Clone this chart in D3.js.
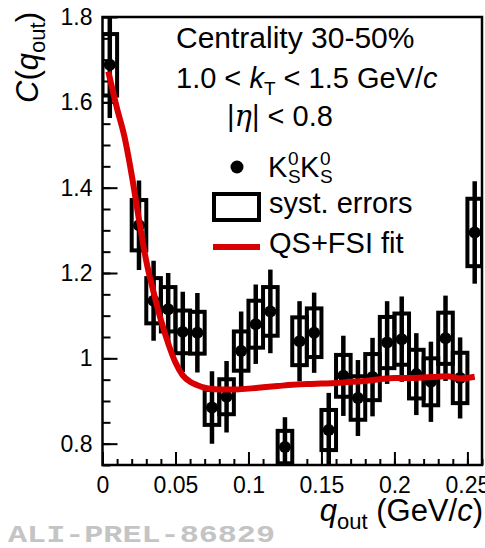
<!DOCTYPE html>
<html>
<head>
<meta charset="utf-8">
<script src="https://cdn.jsdelivr.net/npm/d3@7"></script>
<style>
  html, body { margin: 0; padding: 0; background: #fff; }
  svg { display: block; }
  text { font-family: "Liberation Sans", Arial, Helvetica, sans-serif; fill: #000; }
</style>
</head>
<body>
<svg id="chart" width="485" height="548"></svg>
<script>
// K0S K0S correlation function vs q_out, centrality 30-50 %
const qOut = [0.005, 0.025, 0.035, 0.045, 0.055, 0.065, 0.075, 0.085, 0.095, 0.105,
              0.115, 0.125, 0.135, 0.145, 0.155, 0.165, 0.175, 0.185, 0.195, 0.205,
              0.215, 0.225, 0.235, 0.245, 0.255];
const cValue = [1.688, 1.312, 1.135, 1.115, 1.062, 1.060, 0.885, 0.910, 1.017, 1.080,
                1.110, 0.792, 1.040, 1.060, 0.832, 0.959, 0.907, 0.956, 1.037, 1.045,
                0.963, 0.945, 1.047, 0.954, 1.295];
const statErr = [0.125, 0.105, 0.094, 0.085, 0.094, 0.093, 0.085, 0.084, 0.093, 0.093,
                 0.098, 0.070, 0.094, 0.094, 0.087, 0.094, 0.089, 0.092, 0.097, 0.100,
                 0.096, 0.094, 0.100, 0.095, 0.120];
const systErr = [0.072, 0.059, 0.053, 0.052, 0.050, 0.049, 0.041, 0.041, 0.046, 0.055,
                 0.057, 0.038, 0.056, 0.057, 0.047, 0.049, 0.051, 0.054, 0.060, 0.060,
                 0.057, 0.055, 0.060, 0.059, 0.079];
const binWidth = 0.01;

// QS+FSI fit curve
const fitQ = [0.004, 0.010, 0.015, 0.020, 0.025, 0.030, 0.035, 0.040, 0.045, 0.050,
              0.055, 0.060, 0.065, 0.070, 0.075, 0.080, 0.090, 0.100, 0.110, 0.120,
              0.130, 0.140, 0.150, 0.160, 0.170, 0.180, 0.190, 0.200, 0.210, 0.220,
              0.230, 0.236, 0.245, 0.255];
const fitC = [1.672, 1.585, 1.520, 1.430, 1.325, 1.228, 1.155, 1.090, 1.035, 0.990,
              0.960, 0.945, 0.937, 0.931, 0.928, 0.927, 0.927, 0.929, 0.932, 0.935,
              0.938, 0.940, 0.941, 0.942, 0.945, 0.947, 0.951, 0.954, 0.954, 0.955,
              0.957, 0.958, 0.953, 0.957];

const xTicks = [0, 0.05, 0.1, 0.15, 0.2, 0.25];
const xTickLabels = ["0", "0.05", "0.1", "0.15", "0.2", "0.25"];
const yTicks = [0.8, 1.0, 1.2, 1.4, 1.6, 1.8];
const yTickLabels = ["0.8", "1", "1.2", "1.4", "1.6", "1.8"];

const svg = d3.select("#chart");
const frameL = 102.5, frameR = 482, frameT = 17, frameB = 465;

const x = d3.scaleLinear().domain([0, 0.26]).range([frameL, frameR]);
const y = d3.scaleLinear().domain([0.75, 1.8]).range([frameB, frameT]);

svg.append("defs").append("clipPath").attr("id", "plotClip")
  .append("rect").attr("x", frameL).attr("y", frameT)
  .attr("width", frameR - frameL).attr("height", frameB - frameT);

// axes with inward ticks
const xMinor = d3.range(0, 0.2601, 0.01);
const yMinor = d3.range(0.75, 1.8001, 0.05);

const xAxisMinor = d3.axisBottom(x).tickValues(xMinor).tickSize(-6).tickFormat("");
const xAxisMajor = d3.axisBottom(x).tickValues(xTicks).tickSize(-13)
  .tickFormat((d, i) => xTickLabels[i]);
const yAxisMinor = d3.axisLeft(y).tickValues(yMinor).tickSize(-8).tickFormat("");
const yAxisMajor = d3.axisLeft(y).tickValues(yTicks).tickSize(-15)
  .tickFormat((d, i) => yTickLabels[i]);

function styleAxis(g) {
  g.select(".domain").remove();
  g.selectAll("line").attr("stroke", "#000").attr("stroke-width", 2);
  g.selectAll("text").style("font-size", "23px").style("fill", "#000");
}
svg.append("g").attr("transform", `translate(0,${frameB})`).call(xAxisMinor).call(styleAxis);
svg.append("g").attr("transform", `translate(0,${frameB})`).call(xAxisMajor).call(styleAxis)
  .selectAll("text").attr("dy", "0.71em").attr("y", 12);
svg.append("g").attr("transform", `translate(${frameL},0)`).call(yAxisMinor).call(styleAxis);
svg.append("g").attr("transform", `translate(${frameL},0)`).call(yAxisMajor).call(styleAxis)
  .selectAll("text").attr("x", -10);

// data layer
const plot = svg.append("g").attr("clip-path", "url(#plotClip)");
const pts = qOut.map((q, i) => ({ q, c: cValue[i], s: statErr[i], e: systErr[i] }));

// systematic boxes
plot.selectAll("rect.syst").data(pts).join("rect").attr("class", "syst")
  .attr("x", d => x(d.q - binWidth / 2))
  .attr("width", d => x(d.q + binWidth / 2) - x(d.q - binWidth / 2))
  .attr("y", d => y(d.c + d.e))
  .attr("height", d => y(d.c - d.e) - y(d.c + d.e))
  .attr("fill", "none").attr("stroke", "#000").attr("stroke-width", 4);

// statistical error bars
plot.selectAll("line.stat").data(pts).join("line").attr("class", "stat")
  .attr("x1", d => x(d.q)).attr("x2", d => x(d.q))
  .attr("y1", d => y(d.c + d.s)).attr("y2", d => y(d.c - d.s))
  .attr("stroke", "#000").attr("stroke-width", 4.5);

// markers
plot.selectAll("circle.pt").data(pts).join("circle").attr("class", "pt")
  .attr("cx", d => x(d.q)).attr("cy", d => y(d.c)).attr("r", 6)
  .attr("fill", "#000");

// fit curve
const fitLine = d3.line().x(d => x(d[0])).y(d => y(d[1])).curve(d3.curveMonotoneX);
plot.append("path").datum(fitQ.map((q, i) => [q, fitC[i]]))
  .attr("d", fitLine).attr("fill", "none")
  .attr("stroke", "#d80000").attr("stroke-width", 6).attr("stroke-linejoin", "round");

// frame
svg.append("rect").attr("x", frameL).attr("y", frameT)
  .attr("width", frameR - frameL).attr("height", frameB - frameT)
  .attr("fill", "none").attr("stroke", "#000").attr("stroke-width", 2.5);

// axis titles
const yt = svg.append("text").attr("transform", "translate(38,12) rotate(-90)")
  .attr("text-anchor", "end").style("font-size", "31px");
yt.append("tspan").style("font-style", "italic").text("C");
yt.append("tspan").text("(");
yt.append("tspan").style("font-style", "italic").text("q");
yt.append("tspan").style("font-size", "22px").attr("dy", 7).text("out");
yt.append("tspan").attr("dy", -7).text(")");

const xt = svg.append("text").attr("x", 483).attr("y", 521)
  .attr("text-anchor", "end").style("font-size", "31px");
xt.append("tspan").style("font-style", "italic").text("q");
xt.append("tspan").style("font-size", "22px").attr("dy", 8).text("out");
xt.append("tspan").attr("dy", -8).text(" (GeV/");
xt.append("tspan").style("font-style", "italic").text("c");
xt.append("tspan").text(")");

// annotation text
const fs = "29px";
svg.append("text").attr("x", 176).attr("y", 48).style("font-size", "30px").text("Centrality 30-50%");
const t2 = svg.append("text").attr("x", 176).attr("y", 88).style("font-size", fs);
t2.append("tspan").text("1.0 < ");
t2.append("tspan").style("font-style", "italic").text("k");
t2.append("tspan").style("font-size", "19px").attr("dy", 7).text("T");
t2.append("tspan").attr("dy", -7).text(" < 1.5 GeV/");
t2.append("tspan").style("font-style", "italic").text("c");
const t3 = svg.append("text").attr("x", 227).attr("y", 126).style("font-size", fs);
t3.append("tspan").text("|");
t3.append("tspan").style("font-style", "italic")
  .style("font-family", "'DejaVu Serif', 'Liberation Serif', serif").text("η");
t3.append("tspan").text("| < 0.8");

// legend
svg.append("circle").attr("cx", 237).attr("cy", 167).attr("r", 6.5).attr("fill", "#000");
function kshort(x0) {
  svg.append("text").attr("x", x0).attr("y", 177).style("font-size", fs).text("K");
  svg.append("text").attr("x", x0 + 20).attr("y", 165).style("font-size", "19px").text("0");
  svg.append("text").attr("x", x0 + 20).attr("y", 183).style("font-size", "19px").text("S");
}
kshort(268);
kshort(300);

svg.append("rect").attr("x", 214).attr("y", 194).attr("width", 45).attr("height", 26)
  .attr("fill", "none").attr("stroke", "#000").attr("stroke-width", 4);
svg.append("text").attr("x", 269).attr("y", 213).style("font-size", fs).text("syst. errors");

svg.append("line").attr("x1", 213).attr("x2", 260).attr("y1", 247).attr("y2", 247)
  .attr("stroke", "#d80000").attr("stroke-width", 6);
svg.append("text").attr("x", 269).attr("y", 253).style("font-size", fs).text("QS+FSI fit");

// preliminary tag
svg.append("text").attr("x", 8).attr("y", 542)
  .attr("textLength", 267).attr("lengthAdjust", "spacingAndGlyphs")
  .style("font-family", "'Liberation Mono', 'Courier New', monospace")
  .style("font-weight", "bold").style("font-size", "24px").style("fill", "#c4c4c4")
  .text("ALI-PREL-86829");
</script>
</body>
</html>
